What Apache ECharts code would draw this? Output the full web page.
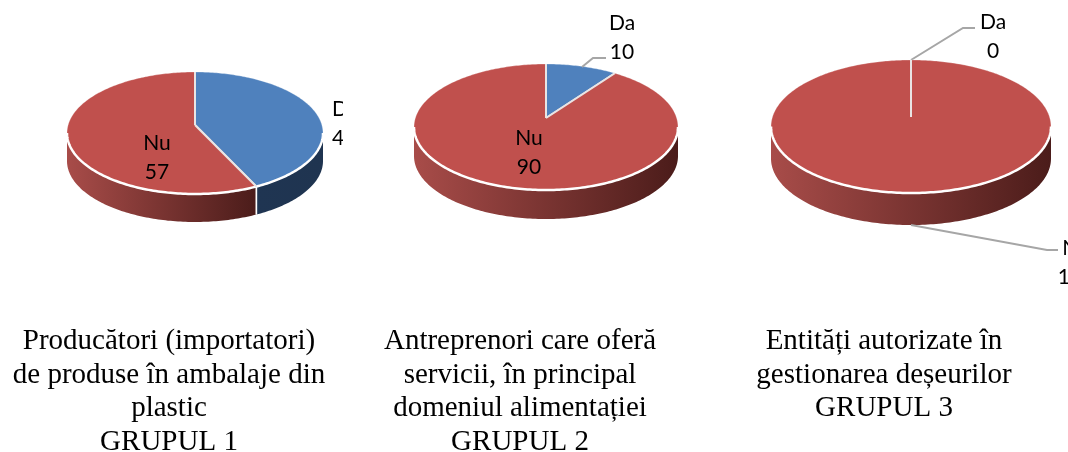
<!DOCTYPE html>
<html>
<head>
<meta charset="utf-8">
<style>html,body{margin:0;padding:0;background:#fff}#c{width:1068px;height:452px}</style>
<script src="https://cdn.jsdelivr.net/npm/echarts@6/dist/echarts.min.js"></script>
</head>
<body>
<div id="c"></div>
<script>
// ---- data ----
const sliceNames = ['Da', 'Nu'];
const group1Values = [43, 57];
const group2Values = [10, 90];
const group3Values = [0, 100];
const group1Caption = 'Producători (importatori)\nde produse în ambalaje din\nplastic\nGRUPUL 1';
const group2Caption = 'Antreprenori care oferă\nservicii, în principal\ndomeniul alimentației\nGRUPUL 2';
const group3Caption = 'Entități autorizate în\ngestionarea deșeurilor\nGRUPUL 3';

// ---- styling / layout ----
const topColors = ['#4f81bd', '#c0504d'];
const wallColors = [['#1f3552', '#1f3450'], ['#a84c49', '#4b1c1a']];
const pies = [
  { values: group1Values, cx: 195, apexY: 125, rx: 128, up: 53, down: 69, depth: 28, caption: group1Caption, capX: 169,
    labels: [{ x: 332, y: 124, align: 'left', clipRight: 343 }, { x: 157, y: 158, align: 'center' }], leaders: [null, null] },
  { values: group2Values, cx: 546, apexY: 118, rx: 132, up: 54, down: 72, depth: 29, caption: group2Caption, capX: 520,
    labels: [{ x: 622, y: 38, align: 'center' }, { x: 529, y: 153, align: 'center' }],
    leaders: [[[582, 67], [593, 58], [606, 58]], null] },
  { values: group3Values, cx: 911, apexY: 117, rx: 140, up: 57, down: 76, depth: 32, caption: group3Caption, capX: 884,
    labels: [{ x: 993, y: 37, align: 'center' }, { x: 1076, y: 263, align: 'center' }],
    leaders: [[[911, 60], [963, 28], [975, 28]], [[911, 225], [1047, 250], [1058, 250]]] }
];
const LABEL_LINE = 29;
const STEP = Math.PI / 180;

function projector(p) {
  const ratio = p.down / p.up;
  const k = (ratio - 1) / (ratio + 1);
  const ryBase = p.up * (1 + k);
  const rxBase = p.rx * Math.sqrt(1 - k * k);
  const fn = (theta, dy) => {
    const u = Math.sin(theta), v = -Math.cos(theta), w = 1 - k * v;
    return [p.cx + rxBase * u / w, p.apexY + ryBase * v / w + (dy || 0)];
  };
  fn.k = k;
  return fn;
}
function arc(proj, a, b, dy) {
  const pts = [];
  const n = Math.max(1, Math.ceil((b - a) / STEP));
  for (let i = 0; i <= n; i++) pts.push(proj(a + (b - a) * i / n, dy));
  return pts;
}
function makeRender(p) {
  const proj = projector(p);
  const total = p.values.reduce((s, v) => s + v, 0);
  const frontStart = Math.acos(-proj.k);
  const frontEnd = 2 * Math.PI - frontStart;
  return function (params, api) {
    const i = params.dataIndex;
    const value = api.value(0);
    let before = 0;
    for (let j = 0; j < i; j++) before += p.values[j];
    const a = before / total * 2 * Math.PI;
    const b = (before + value) / total * 2 * Math.PI;
    const apex = [p.cx, p.apexY];
    const children = [];
    // side wall
    const wa = Math.max(a, frontStart), wb = Math.min(b, frontEnd);
    if (wb > wa) {
      const pts = arc(proj, wa, wb, 0).concat(arc(proj, wa, wb, p.depth).reverse());
      children.push({ type: 'polygon', shape: { points: pts }, style: {
        fill: { type: 'linear', x: 0, y: 0, x2: 1, y2: 0, colorStops: [
          { offset: 0, color: wallColors[i][0] }, { offset: 1, color: wallColors[i][1] }] } } });
    }
    // top face
    if (value > 0) {
      children.push({ type: 'polygon', shape: { points: [apex].concat(arc(proj, a, b, 0)) },
        style: { fill: topColors[i], stroke: 'rgba(255,255,255,0.35)', lineWidth: 0.8 } });
    }
    // bright front rim
    if (wb > wa) {
      children.push({ type: 'polyline', shape: { points: arc(proj, wa, wb, 0) },
        style: { fill: null, stroke: '#ffffff', lineWidth: 2.5 } });
    }
    // slice separators (drawn by the later slice so they sit on top)
    [a, b].forEach(t => {
      children.push({ type: 'polyline', shape: { points: [apex, proj(t, 0)] },
        style: { fill: null, stroke: '#e9e4e4', lineWidth: 2 } });
      if (t > frontStart && t < frontEnd) {
        children.push({ type: 'polyline', shape: { points: [proj(t, 0), proj(t, p.depth)] },
          style: { fill: null, stroke: '#ffffff', lineWidth: 1.6 } });
      }
    });
    // leader line
    if (p.leaders[i]) {
      children.push({ type: 'polyline', shape: { points: p.leaders[i] },
        style: { fill: null, stroke: '#a6a6a6', lineWidth: 2 } });
    }
    // label
    const lab = p.labels[i];
    const text = {
      type: 'text', x: lab.x, y: lab.y,
      style: { text: sliceNames[i] + '\n' + value, fontFamily: 'Lato, Carlito, sans-serif', fontSize: 21,
        lineHeight: LABEL_LINE, fill: '#000', align: lab.align, verticalAlign: 'middle' }
    };
    if (lab.clipRight) {
      children.push({ type: 'group', children: [text],
        clipPath: { type: 'rect', shape: { x: lab.x - 10, y: lab.y - 40, width: lab.clipRight - lab.x + 10, height: 80 } } });
    } else {
      children.push(text);
    }
    return { type: 'group', children };
  };
}

const chart = echarts.init(document.getElementById('c'), null, { renderer: 'canvas' });
chart.setOption({
  backgroundColor: '#ffffff',
  animation: false,
  title: pies.map(p => ({
    text: p.caption, left: p.capX, top: 325, textAlign: 'center', padding: 0,
    textStyle: { fontFamily: '"Liberation Serif", "Times New Roman", serif', fontWeight: 'normal',
      fontSize: 29, lineHeight: 33.5, color: '#000' }
  })),
  series: pies.map(p => ({
    type: 'custom', coordinateSystem: 'none', silent: true, clip: false,
    renderItem: makeRender(p),
    data: p.values.map((v, i) => ({ name: sliceNames[i], value: [v] }))
  }))
});
</script>
</body>
</html>
